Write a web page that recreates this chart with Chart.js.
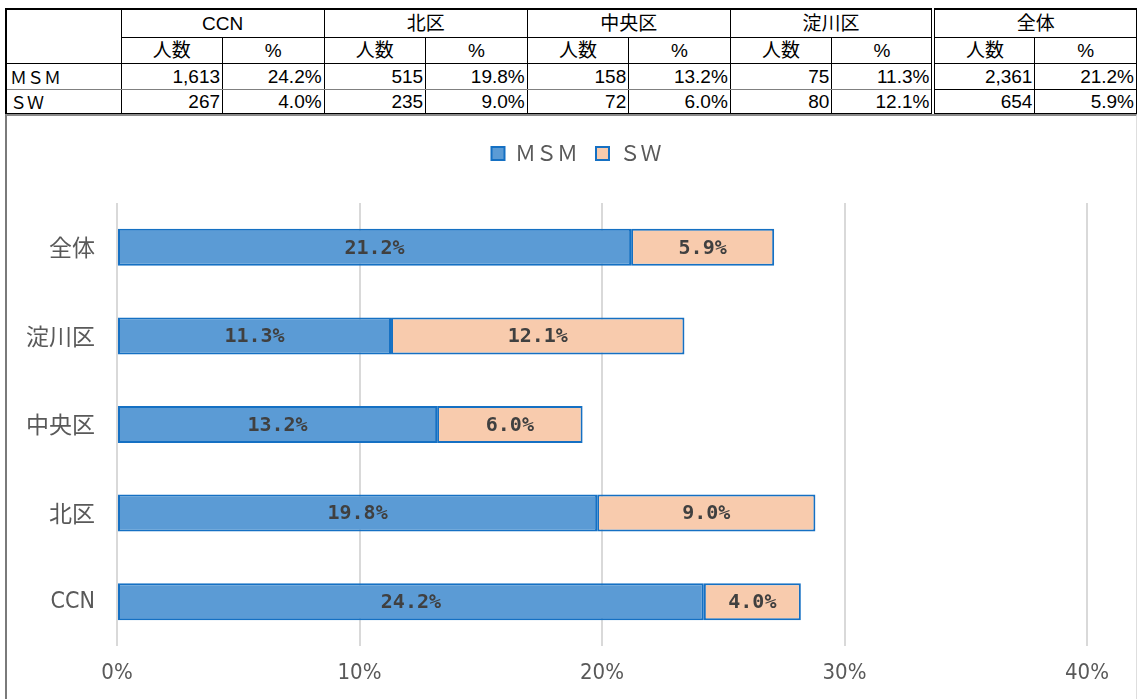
<!DOCTYPE html>
<html>
<head>
<meta charset="utf-8">
<script src="https://cdn.jsdelivr.net/npm/chart.js@4.4.1/dist/chart.umd.min.js"></script>
<style>
html,body{margin:0;padding:0;background:#fff;width:1139px;height:699px;overflow:hidden;}
#tbl{position:absolute;left:5px;top:8px;width:1132px;border-collapse:collapse;table-layout:fixed;
  font-family:'Liberation Sans','Noto Sans CJK JP',sans-serif;font-size:19px;color:#000;}
#tbl td{border:1px solid #000;padding:0 2px;line-height:1;white-space:nowrap;overflow:hidden;box-sizing:border-box;}
#tbl tr.h1 td{height:28px;border-top:2px solid #000;}
#tbl tr.h2 td{height:26px;}
#tbl tr.d1 td{height:26px;border-bottom:1px solid #808080;}
#tbl tr.d2 td{height:25px;border-bottom:3px solid #000;}
#tbl td.hc{text-align:center;}
#tbl td.num{text-align:right;}
#tbl td.lab{text-align:left;font-family:'Noto Sans CJK JP',sans-serif;font-size:17px;padding-left:3px;}
#tbl td.dbl{border-left:4px double #000;}
#tbl tr.d1 td.tot{border-bottom:1px dotted #000;}
#tbl td.first{border-left:2px solid #000;}
#frame{position:absolute;left:5px;top:114px;width:1132px;height:600px;border-left:2px solid #7a7a7a;border-top:2px solid #8a8a8a;border-right:1px solid #dedede;box-sizing:border-box;}
#wrap{position:absolute;left:7px;top:117px;width:1130px;height:582px;}
</style>
</head>
<body>
<table id="tbl"></table>
<div id="frame"></div>
<div id="wrap"><canvas id="c"></canvas></div>
<script>
// ---- data ----
const regions = ['CCN', '北区', '中央区', '淀川区', '全体'];
const seriesNames = ['ＭＳＭ', 'ＳＷ'];
const msmCount = [1613, 515, 158, 75, 2361];
const swCount = [267, 235, 72, 80, 654];
const msmPct = [24.2, 19.8, 13.2, 11.3, 21.2];
const swPct = [4.0, 9.0, 6.0, 12.1, 5.9];
const subHeaders = ['人数', '%'];
const xTickLabels = ['0%', '10%', '20%', '30%', '40%'];

// ---- table ----
const fmtCount = v => v.toLocaleString('en-US');
const fmtPct = v => v.toFixed(1) + '%';
const last = regions.length - 1;
let h = '<colgroup><col style="width:115px">' + regions.map(() => '<col><col>').join('') + '</colgroup>';
h += '<tr class="h1"><td rowspan="2" class="first"></td>' +
  regions.map((r, i) => `<td colspan="2" class="hc${i === last ? ' dbl' : ''}">${r}</td>`).join('') + '</tr>';
h += '<tr class="h2">' + regions.map((r, i) =>
  `<td class="hc${i === last ? ' dbl' : ''}">${subHeaders[0]}</td><td class="hc">${subHeaders[1]}</td>`).join('') + '</tr>';
const rows = [[msmCount, msmPct], [swCount, swPct]];
rows.forEach((rw, ri) => {
  h += `<tr class="d${ri + 1}"><td class="lab first">${seriesNames[ri]}</td>` + regions.map((r, i) =>
    `<td class="num${i === last ? ' dbl tot' : ''}">${fmtCount(rw[0][i])}</td><td class="num${i === last ? ' tot' : ''}">${fmtPct(rw[1][i])}</td>`).join('') + '</tr>';
});
document.getElementById('tbl').innerHTML = h;

// ---- chart ----
const AREA_TOP = 86;   // legend block height incl. top padding
const TOP_PAD = 8;
const LEGEND_SHIFT = 59;
const legendSpacer = {
  id: 'legendSpacer',
  beforeInit(chart) {
    const orig = chart.legend.fit;
    chart.legend.fit = function () { orig.call(this); this.height = AREA_TOP - TOP_PAD; };
  },
  afterLayout(chart) {
    chart.legend.left += LEGEND_SHIFT;
  }
};
const barLabels = {
  id: 'barLabels',
  afterDatasetsDraw(chart) {
    const ctx = chart.ctx;
    ctx.save();
    ctx.font = "bold 20px 'DejaVu Sans Mono', monospace";
    ctx.fillStyle = '#404040';
    ctx.textAlign = 'center';
    ctx.textBaseline = 'middle';
    chart.data.datasets.forEach((ds, di) => {
      chart.getDatasetMeta(di).data.forEach((el, i) => {
        ctx.fillText(fmtPct(ds.data[i]), (el.x + el.base) / 2, el.y + 1);
      });
    });
    ctx.restore();
  }
};
const narrow = "'DejaVu Sans Condensed', 'Liberation Sans', sans-serif";
const cjk = "'Noto Sans CJK JP', sans-serif";

new Chart(document.getElementById('c'), {
  type: 'bar',
  data: {
    labels: regions,
    datasets: [
      { label: seriesNames[0], data: msmPct, backgroundColor: '#5B9BD5', borderColor: '#1570C3',
        borderWidth: 2, borderSkipped: false, barPercentage: 0.418, categoryPercentage: 1 },
      { label: seriesNames[1], data: swPct, backgroundColor: '#F8CBAD', borderColor: '#1570C3',
        borderWidth: 2, borderSkipped: false, barPercentage: 0.418, categoryPercentage: 1 }
    ]
  },
  options: {
    indexAxis: 'y',
    responsive: true,
    maintainAspectRatio: false,
    animation: false,
    layout: { padding: { top: TOP_PAD, left: 0, right: 50, bottom: 0 } },
    plugins: {
      legend: {
        position: 'top', align: 'center',
        labels: { boxWidth: 13, boxHeight: 13, padding: 18, color: '#595959',
          font: { family: cjk, size: 21 } }
      },
      tooltip: { enabled: false }
    },
    scales: {
      x: {
        stacked: true, min: 0, max: 40,
        ticks: { stepSize: 10, padding: 14, color: '#595959',
          font: { family: narrow, size: 22 },
          callback: (v, i) => xTickLabels[i] },
        grid: { color: '#D9D9D9', lineWidth: 2, drawTicks: false },
        border: { display: false },
        afterFit(s) { s.height = 53; }
      },
      y: {
        stacked: true, reverse: true,
        ticks: { padding: 22, color: '#595959',
          font: (c) => {
            const lbl = c.tick ? String(c.tick.label) : '';
            return /^[A-Za-z]/.test(lbl) ? { family: narrow, size: 23 } : { family: cjk, size: 23 };
          } },
        grid: { display: false, drawTicks: false },
        border: { display: false },
        afterFit(s) { s.width = 110; }
      }
    }
  },
  plugins: [legendSpacer, barLabels]
});
</script>
</body>
</html>
